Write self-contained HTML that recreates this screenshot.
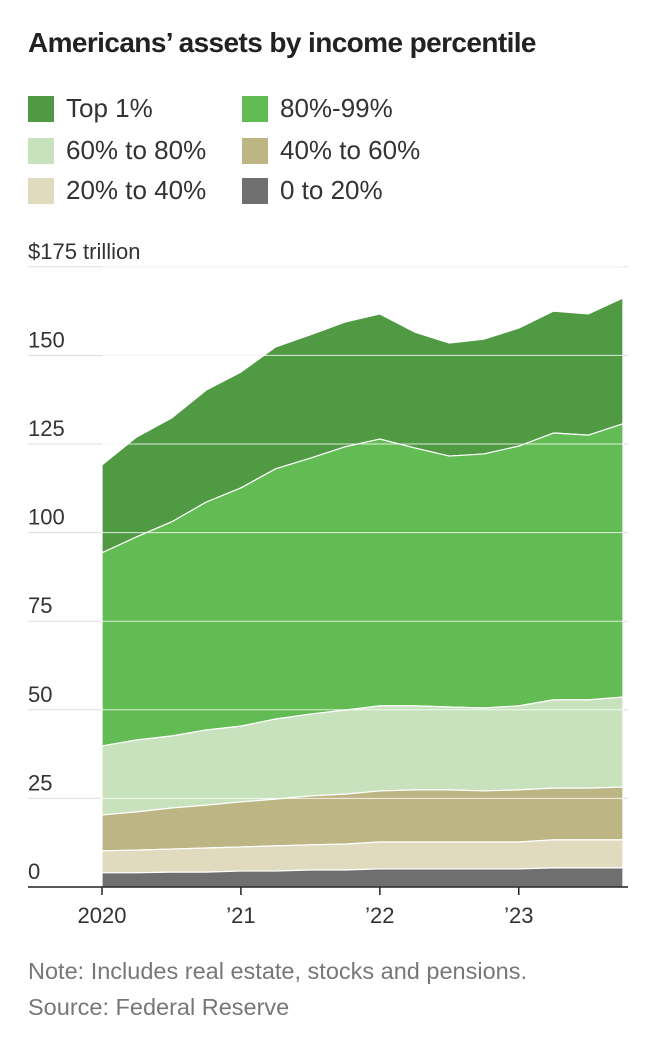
<!DOCTYPE html>
<html><head><meta charset="utf-8"><style>
body{margin:0;background:#fff;font-family:"Liberation Sans",sans-serif;width:648px;height:1038px;overflow:hidden;position:relative;color:#222}
.t{position:absolute;left:28px;top:27px;font-size:28px;font-weight:bold;letter-spacing:-0.6px}
.lg{position:absolute;font-size:26px;color:#333}
.sw{position:absolute;width:26px;height:26px}
.note{position:absolute;left:28px;font-size:23.5px;color:#777}
</style></head><body>
<div class="t">Americans’ assets by income percentile</div>
<div>
<div class="sw" style="left:28px;top:96px;background:#4f9a43"></div><div class="lg" style="left:66px;top:93px">Top 1%</div>
<div class="sw" style="left:242px;top:96px;background:#62bb53"></div><div class="lg" style="left:280px;top:93px">80%-99%</div>
<div class="sw" style="left:28px;top:138px;background:#c7e2bd"></div><div class="lg" style="left:66px;top:135px">60% to 80%</div>
<div class="sw" style="left:242px;top:138px;background:#bdb584"></div><div class="lg" style="left:280px;top:135px">40% to 60%</div>
<div class="sw" style="left:28px;top:178px;background:#e0dbbf"></div><div class="lg" style="left:66px;top:175px">20% to 40%</div>
<div class="sw" style="left:242px;top:178px;background:#6f6f6f"></div><div class="lg" style="left:280px;top:175px">0 to 20%</div>
</div>
<svg id="c" width="648" height="960" style="position:absolute;left:0;top:0"></svg>
<div class="note" style="top:958px">Note: Includes real estate, stocks and pensions.</div>
<div class="note" style="top:994px">Source: Federal Reserve</div>
<script>
const quarters=16;
const top1=[119.1,127,132.3,140.2,145.3,152.4,155.8,159.4,161.7,156.6,153.5,154.6,157.7,162.5,161.7,166.2];
const p80=[94.3,98.8,103,108.6,112.6,118,121,124.2,126.4,123.9,121.6,122.2,124.4,128.1,127.5,130.7];
const p60=[39.8,41.5,42.6,44.3,45.4,47.4,48.8,49.9,51.1,51.1,50.8,50.5,51.1,52.8,52.8,53.6];
const p40=[20.3,21.2,22.3,23.1,24,24.8,25.7,26.2,27.1,27.4,27.4,27.1,27.4,27.9,27.9,28.2];
const p20=[10.2,10.4,10.7,11,11.3,11.6,11.9,12.1,12.7,12.7,12.7,12.7,12.7,13.3,13.3,13.3];
const p0=[4,4,4.2,4.2,4.5,4.5,4.8,4.8,5.1,5.1,5.1,5.1,5.1,5.4,5.4,5.4];
const yTicks=[0,25,50,75,100,125,150,175];
const yLabels=["0","25","50","75","100","125","150","$175 trillion"];
const xTickQ=[0,4,8,12];
const xLabels=["2020","’21","’22","’23"];
const NS="http://www.w3.org/2000/svg";
const svg=document.getElementById('c');
const X=q=>102+q*34.73, Y=v=>887-v*3.544;
function mk(t,a){const e=document.createElementNS(NS,t);for(const k in a)e.setAttribute(k,a[k]);svg.appendChild(e);return e;}
yTicks.forEach((v,i)=>{const l=mk('line',{x1:28,x2:628,y1:Y(v),y2:Y(v),stroke:'#ddd','stroke-width':1});

});
const layers=[[top1,p80,'#4f9a43','top-1'],[p80,p60,'#62bb53','80-99'],[p60,p40,'#c7e2bd','60-80'],[p40,p20,'#bdb584','40-60'],[p20,p0,'#e0dbbf','20-40'],[p0,null,'#6f6f6f','0-20']];
layers.forEach(([hi,lo,col,nm])=>{let d='';
for(let i=0;i<quarters;i++)d+=(i?'L':'M')+X(i)+','+Y(hi[i]);
for(let i=quarters-1;i>=0;i--)d+='L'+X(i)+','+Y(lo?lo[i]:0);
const p=mk('path',{d:d+'Z',fill:col,stroke:'#fff','stroke-width':1.2,'stroke-linejoin':'round'});

});
yTicks.forEach((v,i)=>{if(v>0){const l=mk('line',{x1:102,x2:623,y1:Y(v),y2:Y(v),stroke:'#fff','stroke-opacity':0.8,'stroke-width':1});

}
const t=mk('text',{x:28,y:Y(v)-8,'font-size':22,fill:'#333','font-family':'Liberation Sans, sans-serif'});t.textContent=yLabels[i];

});
const b=mk('line',{x1:28,x2:628,y1:887,y2:887,stroke:'#222','stroke-width':1.5});


xTickQ.forEach((q,i)=>{const l=mk('line',{x1:X(q),x2:X(q),y1:887,y2:895,stroke:'#222','stroke-width':1.5});


const t=mk('text',{x:X(q),y:923,'font-size':22,fill:'#333','text-anchor':'middle','font-family':'Liberation Sans, sans-serif'});t.textContent=xLabels[i];

});
</script>
</body></html>
